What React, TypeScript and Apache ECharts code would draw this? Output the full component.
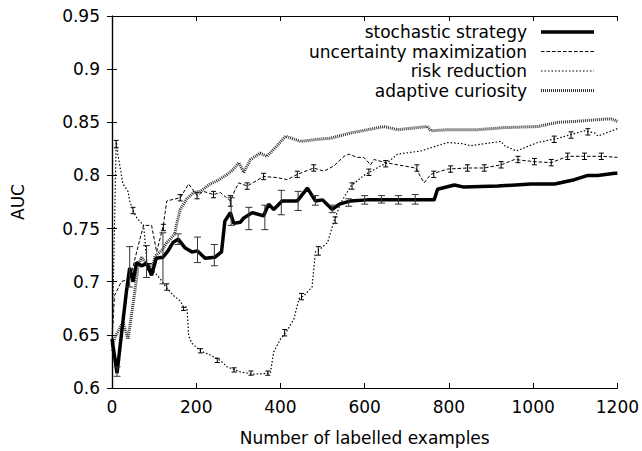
import React, { useEffect, useRef } from "react";
import * as echarts from "echarts";

// ---- data ----
const xTicks = [0, 200, 400, 600, 800, 1000, 1200];

const seriesNames = [
  "stochastic strategy",
  "uncertainty maximization",
  "risk reduction",
  "adaptive curiosity",
];

const stochX = [0, 12, 22, 34, 42, 50, 58, 70, 82, 94, 105, 121, 133, 145, 157, 173, 190, 203, 221, 244, 260, 268, 281, 289, 305, 313, 333, 360, 372, 384, 404, 440, 464, 483, 500, 523, 540, 567, 606, 694, 765, 773, 813, 836, 916, 995, 1051, 1098, 1130, 1153, 1194, 1200];
const stochY = [0.646, 0.614, 0.649, 0.69, 0.713, 0.70, 0.718, 0.715, 0.717, 0.706, 0.722, 0.723, 0.729, 0.737, 0.74, 0.732, 0.728, 0.729, 0.722, 0.723, 0.728, 0.757, 0.765, 0.755, 0.756, 0.76, 0.765, 0.762, 0.773, 0.768, 0.776, 0.776, 0.788, 0.776, 0.777, 0.768, 0.773, 0.776, 0.777, 0.777, 0.777, 0.787, 0.791, 0.789, 0.79, 0.792, 0.792, 0.796, 0.8, 0.8, 0.802, 0.802];
const stochErrX = [12, 42, 82, 121, 157, 203, 243, 283, 325, 363, 402, 442, 483, 523, 562, 600, 640, 680, 720];
const stochErrLo = [0.611, 0.695, 0.704, 0.698, 0.735, 0.718, 0.715, 0.753, 0.749, 0.749, 0.763, 0.767, 0.772, 0.765, 0.771, 0.773, 0.774, 0.773, 0.773];
const stochErrHi = [0.62, 0.733, 0.734, 0.746, 0.745, 0.742, 0.735, 0.779, 0.77, 0.772, 0.786, 0.785, 0.781, 0.772, 0.778, 0.781, 0.781, 0.781, 0.782];

const uncX = [0, 6, 22, 43, 63, 75, 94, 106, 122, 130, 162, 182, 202, 217, 241, 257, 281, 293, 301, 321, 360, 392, 416, 440, 479, 503, 527, 551, 563, 582, 598, 614, 622, 650, 678, 721, 741, 757, 797, 844, 884, 924, 956, 1002, 1043, 1082, 1122, 1162, 1200];
const uncY = [0.645, 0.687, 0.70, 0.703, 0.735, 0.753, 0.753, 0.728, 0.753, 0.776, 0.779, 0.792, 0.781, 0.785, 0.782, 0.784, 0.776, 0.787, 0.793, 0.79, 0.799, 0.798, 0.796, 0.801, 0.807, 0.804, 0.809, 0.818, 0.82, 0.817, 0.817, 0.81, 0.815, 0.812, 0.81, 0.807, 0.793, 0.801, 0.806, 0.807, 0.807, 0.81, 0.815, 0.813, 0.812, 0.818, 0.818, 0.818, 0.817];
const uncErrX = [122, 162, 202, 241, 281, 321, 360, 440, 479, 724, 764, 804, 844, 884, 924, 964, 1003, 1043, 1082, 1122, 1162];
const uncErrLo = [0.748, 0.776, 0.778, 0.779, 0.771, 0.787, 0.796, 0.798, 0.804, 0.804, 0.798, 0.803, 0.804, 0.804, 0.807, 0.812, 0.81, 0.809, 0.815, 0.815, 0.815];
const uncErrHi = [0.754, 0.782, 0.784, 0.785, 0.781, 0.793, 0.802, 0.804, 0.81, 0.81, 0.804, 0.809, 0.81, 0.81, 0.813, 0.818, 0.816, 0.815, 0.821, 0.821, 0.821];

const riskX = [0, 10, 14, 22, 26, 38, 42, 50, 59, 75, 83, 94, 114, 126, 146, 162, 170, 178, 182, 190, 210, 233, 257, 273, 305, 337, 376, 384, 400, 416, 432, 444, 456, 475, 483, 495, 512, 527, 543, 567, 598, 638, 654, 678, 733, 797, 830, 852, 924, 932, 960, 1011, 1059, 1122, 1146, 1154, 1200];
const riskY = [0.635, 0.833, 0.82, 0.801, 0.792, 0.785, 0.776, 0.767, 0.76, 0.753, 0.718, 0.712, 0.703, 0.696, 0.687, 0.682, 0.676, 0.676, 0.649, 0.642, 0.635, 0.631, 0.626, 0.62, 0.615, 0.613, 0.614, 0.634, 0.646, 0.654, 0.665, 0.684, 0.687, 0.695, 0.728, 0.731, 0.737, 0.757, 0.774, 0.79, 0.80, 0.809, 0.812, 0.82, 0.823, 0.831, 0.83, 0.828, 0.832, 0.828, 0.823, 0.831, 0.835, 0.842, 0.84, 0.837, 0.844];
const riskErrX = [10, 50, 90, 130, 170, 210, 250, 290, 330, 370, 410, 450, 490, 530, 570, 610, 650, 1050, 1090, 1130];
const riskErrLo = [0.826, 0.764, 0.711, 0.692, 0.673, 0.633, 0.624, 0.615, 0.612, 0.612, 0.649, 0.683, 0.725, 0.755, 0.787, 0.8, 0.808, 0.831, 0.835, 0.838];
const riskErrHi = [0.833, 0.770, 0.717, 0.698, 0.676, 0.637, 0.628, 0.619, 0.616, 0.616, 0.655, 0.689, 0.733, 0.761, 0.793, 0.806, 0.814, 0.837, 0.841, 0.844];

const curX = [0, 10, 26, 38, 46, 54, 62, 70, 83, 94, 102, 114, 121, 130, 138, 149, 154, 162, 178, 194, 210, 233, 250, 274, 289, 301, 313, 329, 352, 368, 392, 412, 448, 488, 519, 567, 646, 678, 749, 757, 797, 868, 932, 1011, 1059, 1106, 1170, 1186, 1200];
const curY = [0.64, 0.65, 0.662, 0.646, 0.668, 0.69, 0.715, 0.723, 0.716, 0.71, 0.724, 0.728, 0.731, 0.737, 0.74, 0.745, 0.755, 0.768, 0.778, 0.784, 0.785, 0.792, 0.795, 0.801, 0.806, 0.812, 0.803, 0.815, 0.821, 0.818, 0.828, 0.837, 0.832, 0.834, 0.835, 0.84, 0.846, 0.843, 0.846, 0.842, 0.843, 0.843, 0.845, 0.846, 0.85, 0.851, 0.853, 0.853, 0.851];

const FONT = "DejaVu Sans";

function pairs(xs: number[], ys: number[]) {
  return xs.map((x, i) => [x, ys[i]]);
}
function triples(xs: number[], lo: number[], hi: number[]) {
  return xs.map((x, i) => [x, lo[i], hi[i]]);
}

function errRender(color: string, w: number) {
  return (params: any, api: any) => {
    const x = api.value(0);
    const p1 = api.coord([x, api.value(1)]);
    const p2 = api.coord([x, api.value(2)]);
    const st = { stroke: color, lineWidth: 1 };
    return {
      type: "group",
      children: [
        { type: "line", shape: { x1: p1[0], y1: p1[1], x2: p2[0], y2: p2[1] }, style: st },
        { type: "line", shape: { x1: p1[0] - w, y1: p1[1], x2: p1[0] + w, y2: p1[1] }, style: st },
        { type: "line", shape: { x1: p2[0] - w, y1: p2[1], x2: p2[0] + w, y2: p2[1] }, style: st },
      ],
    };
  };
}

const lineStyles = [
  { color: "#000", width: 3.5, type: "solid" as any },
  { color: "#000", width: 1, type: [3.5, 2] as any },
  { color: "#000", width: 1.2, type: [1.5, 2] as any },
  { color: "#333", width: 3, type: [1, 1] as any },
];

export default function App() {
  const ref = useRef<HTMLDivElement>(null);
  useEffect(() => {
    if (!ref.current) return;
    const chart = echarts.init(ref.current, undefined, { renderer: "svg" });
    const axisCommon = {
      type: "value" as const,
      axisLine: { show: true, lineStyle: { color: "#000", width: 1.2 } },
      axisTick: { show: true, inside: true, length: 5, lineStyle: { color: "#000", width: 1 } },
      splitLine: { show: false },
    };
    const legendRows = [32, 51.5, 71, 90.5];
    const graphics: any[] = [];
    seriesNames.forEach((n, i) => {
      graphics.push({
        type: "text",
        x: 527,
        y: legendRows[i],
        style: { text: n, align: "right", verticalAlign: "middle", fontSize: 17, fontFamily: FONT, fill: "#000" },
      });
      graphics.push({
        type: "line",
        shape: { x1: 541, y1: legendRows[i], x2: 594, y2: legendRows[i] },
        style: {
          stroke: lineStyles[i].color,
          lineWidth: lineStyles[i].width,
          lineDash: Array.isArray(lineStyles[i].type) ? lineStyles[i].type : null,
        },
      });
    });

    const lineSeries = [
      pairs(stochX, stochY),
      pairs(uncX, uncY),
      pairs(riskX, riskY),
      pairs(curX, curY),
    ];
    const order = [3, 2, 1, 0];
    const series: any[] = [];
    series.push({
      type: "custom",
      name: "risk err",
      renderItem: errRender("#000", 2.5),
      data: triples(riskErrX, riskErrLo, riskErrHi),
      encode: { x: 0, y: [1, 2] },
      z: 2,
    });
    series.push({
      type: "custom",
      name: "unc err",
      renderItem: errRender("#000", 2.5),
      data: triples(uncErrX, uncErrLo, uncErrHi),
      encode: { x: 0, y: [1, 2] },
      z: 2,
    });
    order.forEach((i) => {
      series.push({
        type: "line",
        name: seriesNames[i],
        data: lineSeries[i],
        showSymbol: false,
        symbol: "none",
        lineStyle: lineStyles[i],
        itemStyle: { color: lineStyles[i].color },
        z: 3 + (3 - i),
      });
    });
    series.push({
      type: "custom",
      name: "stoch err",
      renderItem: errRender("#333", 3.5),
      data: triples(stochErrX, stochErrLo, stochErrHi),
      encode: { x: 0, y: [1, 2] },
      z: 10,
    });

    chart.setOption({
      animation: false,
      backgroundColor: "#fff",
      grid: { left: 112, right: 24, top: 16, bottom: 62, containLabel: false },
      xAxis: [
        {
          ...axisCommon,
          position: "bottom",
          min: xTicks[0],
          max: xTicks[xTicks.length - 1],
          interval: 200,
          axisLabel: {
            fontSize: 17,
            fontFamily: FONT,
            color: "#000",
            margin: 10,
            formatter: (v: number) => String(v),
          },
          name: "Number of labelled examples",
          nameLocation: "middle",
          nameGap: 41,
          nameTextStyle: { fontSize: 17, fontFamily: FONT, color: "#000" },
        },
        {
          ...axisCommon,
          position: "top",
          min: xTicks[0],
          max: xTicks[xTicks.length - 1],
          interval: 200,
          axisLabel: { show: false },
        },
      ],
      yAxis: [
        {
          ...axisCommon,
          position: "left",
          min: 0.6,
          max: 0.95,
          interval: 0.05,
          axisLabel: { fontSize: 17, fontFamily: FONT, color: "#000", margin: 12 },
          name: "AUC",
          nameLocation: "middle",
          nameGap: 86,
          nameRotate: 90,
          nameTextStyle: { fontSize: 17, fontFamily: FONT, color: "#000" },
        },
        {
          ...axisCommon,
          position: "right",
          min: 0.6,
          max: 0.95,
          interval: 0.05,
          axisLabel: { show: false },
        },
      ],
      series,
      graphic: graphics,
    });
    return () => chart.dispose();
  }, []);
  return (
    <div
      ref={ref}
      style={{ position: "fixed", left: 0, top: 0, width: 642, height: 451, background: "#fff" }}
    />
  );
}
